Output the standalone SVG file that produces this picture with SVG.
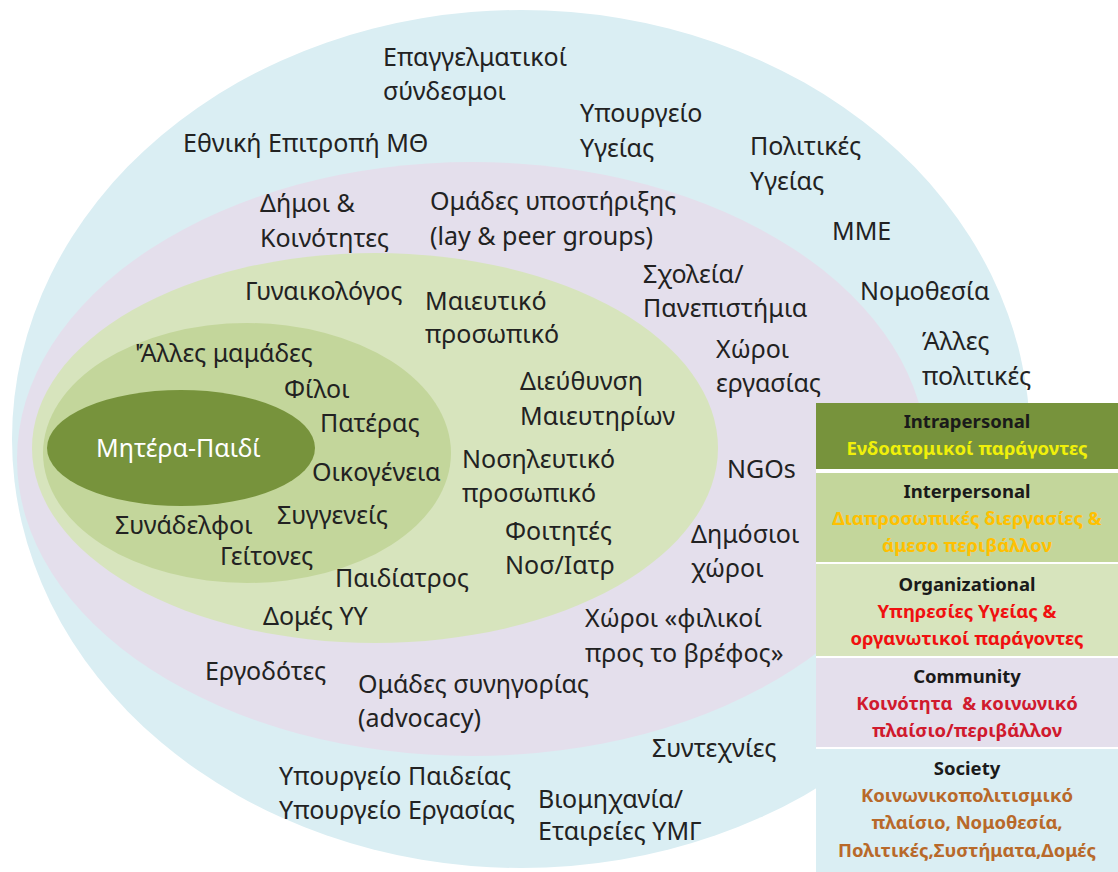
<svg xmlns="http://www.w3.org/2000/svg" width="1118" height="872" viewBox="0 0 1118 872">
<style>
.l{font-family:"Noto Sans","Open Sans",sans-serif;font-size:25px;fill:#222}
.w{fill:#fff}
.h{font-family:"Noto Sans","Open Sans",sans-serif;font-size:18.5px;font-weight:bold;fill:#1a1a1a;text-anchor:middle}
.s{font-family:"Noto Sans","Open Sans",sans-serif;font-size:18.5px;font-weight:bold;text-anchor:middle}
</style>
<rect width="1118" height="872" fill="#fff"/>
<g id="society"><ellipse cx="521" cy="439" rx="509" ry="429" fill="#DAEEF3"/></g>
<g id="community"><ellipse cx="472" cy="459" rx="455" ry="297" fill="#E4DFEC"/></g>
<g id="organizational"><ellipse cx="375" cy="448" rx="343" ry="195" fill="#D7E4BD"/></g>
<g id="interpersonal"><ellipse cx="247" cy="453" rx="204" ry="130" fill="#C3D69B"/></g>
<g id="intrapersonal"><ellipse cx="181" cy="448" rx="134" ry="58" fill="#77933C"/><text class="l w" x="96" y="457">Μητέρα-Παιδί</text></g>
<g id="labels">
<g id="n1"><text class="l" x="383" y="66">Επαγγελματικοί</text><text class="l" x="383" y="100">σύνδεσμοι</text></g>
<g id="n2"><text class="l" x="183" y="152">Εθνική Επιτροπή ΜΘ</text></g>
<g id="n3"><text class="l" x="580" y="122">Υπουργείο</text><text class="l" x="580" y="157">Υγείας</text></g>
<g id="n4"><text class="l" x="750" y="155">Πολιτικές</text><text class="l" x="750" y="190">Υγείας</text></g>
<g id="n5"><text class="l" x="260" y="212">Δήμοι &amp;</text><text class="l" x="260" y="247">Κοινότητες</text></g>
<g id="n6"><text class="l" x="430" y="210">Ομάδες υποστήριξης</text><text class="l" x="430" y="245">(lay &amp; peer groups)</text></g>
<g id="n7"><text class="l" x="832" y="240">ΜΜΕ</text></g>
<g id="n8"><text class="l" x="245" y="300">Γυναικολόγος</text></g>
<g id="n9"><text class="l" x="425" y="310">Μαιευτικό</text><text class="l" x="425" y="343">προσωπικό</text></g>
<g id="n10"><text class="l" x="643" y="283">Σχολεία/</text><text class="l" x="643" y="317">Πανεπιστήμια</text></g>
<g id="n11"><text class="l" x="860" y="300">Νομοθεσία</text></g>
<g id="n12"><text class="l" x="922" y="350">Άλλες</text><text class="l" x="922" y="385">πολιτικές</text></g>
<g id="n13"><text class="l" x="716" y="358">Χώροι</text><text class="l" x="716" y="392">εργασίας</text></g>
<g id="n14"><text class="l" x="135" y="362">'Άλλες μαμάδες</text></g>
<g id="n15"><text class="l" x="284" y="398">Φίλοι</text></g>
<g id="n16"><text class="l" x="320" y="432">Πατέρας</text></g>
<g id="n17"><text class="l" x="312" y="481">Οικογένεια</text></g>
<g id="n18"><text class="l" x="277" y="524">Συγγενείς</text></g>
<g id="n19"><text class="l" x="115" y="534">Συνάδελφοι</text></g>
<g id="n20"><text class="l" x="220" y="565">Γείτονες</text></g>
<g id="n21"><text class="l" x="335" y="587">Παιδίατρος</text></g>
<g id="n22"><text class="l" x="520" y="390">Διεύθυνση</text><text class="l" x="520" y="425">Μαιευτηρίων</text></g>
<g id="n23"><text class="l" x="462" y="468">Νοσηλευτικό</text><text class="l" x="462" y="502">προσωπικό</text></g>
<g id="n24"><text class="l" x="505" y="540">Φοιτητές</text><text class="l" x="505" y="574">Νοσ/Ιατρ</text></g>
<g id="n25"><text class="l" x="727" y="478">NGOs</text></g>
<g id="n26"><text class="l" x="691" y="543">Δημόσιοι</text><text class="l" x="691" y="577">χώροι</text></g>
<g id="n27"><text class="l" x="263" y="625">Δομές ΥΥ</text></g>
<g id="n28"><text class="l" x="585" y="627">Χώροι «φιλικοί</text><text class="l" x="585" y="662">προς το βρέφος»</text></g>
<g id="n29"><text class="l" x="205" y="680">Εργοδότες</text></g>
<g id="n30"><text class="l" x="358" y="693">Ομάδες συνηγορίας</text><text class="l" x="358" y="727">(advocacy)</text></g>
<g id="n31"><text class="l" x="652" y="757">Συντεχνίες</text></g>
<g id="n32"><text class="l" x="279" y="785">Υπουργείο Παιδείας</text><text class="l" x="279" y="819">Υπουργείο Εργασίας</text></g>
<g id="n33"><text class="l" x="538" y="808">Βιομηχανία/</text><text class="l" x="538" y="840">Εταιρείες ΥΜΓ</text></g>
</g>
<g id="legend">
<rect x="816" y="403" width="302" height="469" fill="#fff"/>
<g id="lg-intra"><rect x="816" y="403" width="302" height="66" fill="#77933C"/><text class="h" x="967" y="428">Intrapersonal</text><text class="s" x="967" y="455" fill="#F0F00A">Ενδοατομικοί παράγοντες</text></g>
<g id="lg-inter"><rect x="816" y="473" width="302" height="89" fill="#C3D69B"/><text class="h" x="967" y="498">Interpersonal</text><text class="s" x="967" y="525" fill="#FFC000">Διαπροσωπικές διεργασίες &amp;</text><text class="s" x="967" y="552" fill="#FFC000">άμεσο περιβάλλον</text></g>
<g id="lg-org"><rect x="816" y="564" width="302" height="92" fill="#D7E4BD"/><text class="h" x="967" y="591">Organizational</text><text class="s" x="967" y="618" fill="#F01010">Υπηρεσίες Υγείας &amp;</text><text class="s" x="967" y="645" fill="#F01010">οργανωτικοί παράγοντες</text></g>
<g id="lg-com"><rect x="816" y="658" width="302" height="89" fill="#E4DFEC"/><text class="h" x="967" y="683" fill="#1F2A3C">Community</text><text class="s" x="967" y="710" fill="#D01A2E">Κοινότητα&#160; &amp; κοινωνικό</text><text class="s" x="967" y="737" fill="#D01A2E">πλαίσιο/περιβάλλον</text></g>
<g id="lg-soc"><rect x="816" y="749" width="302" height="123" fill="#DAEEF3"/><text class="h" x="967" y="775">Society</text><text class="s" x="967" y="802" fill="#B8692A">Κοινωνικοπολιτισμικό</text><text class="s" x="967" y="829" fill="#B8692A">πλαίσιο, Νομοθεσία,</text><text class="s" x="967" y="857" fill="#B8692A">Πολιτικές,Συστήματα,Δομές</text></g>
</g>
</svg>
